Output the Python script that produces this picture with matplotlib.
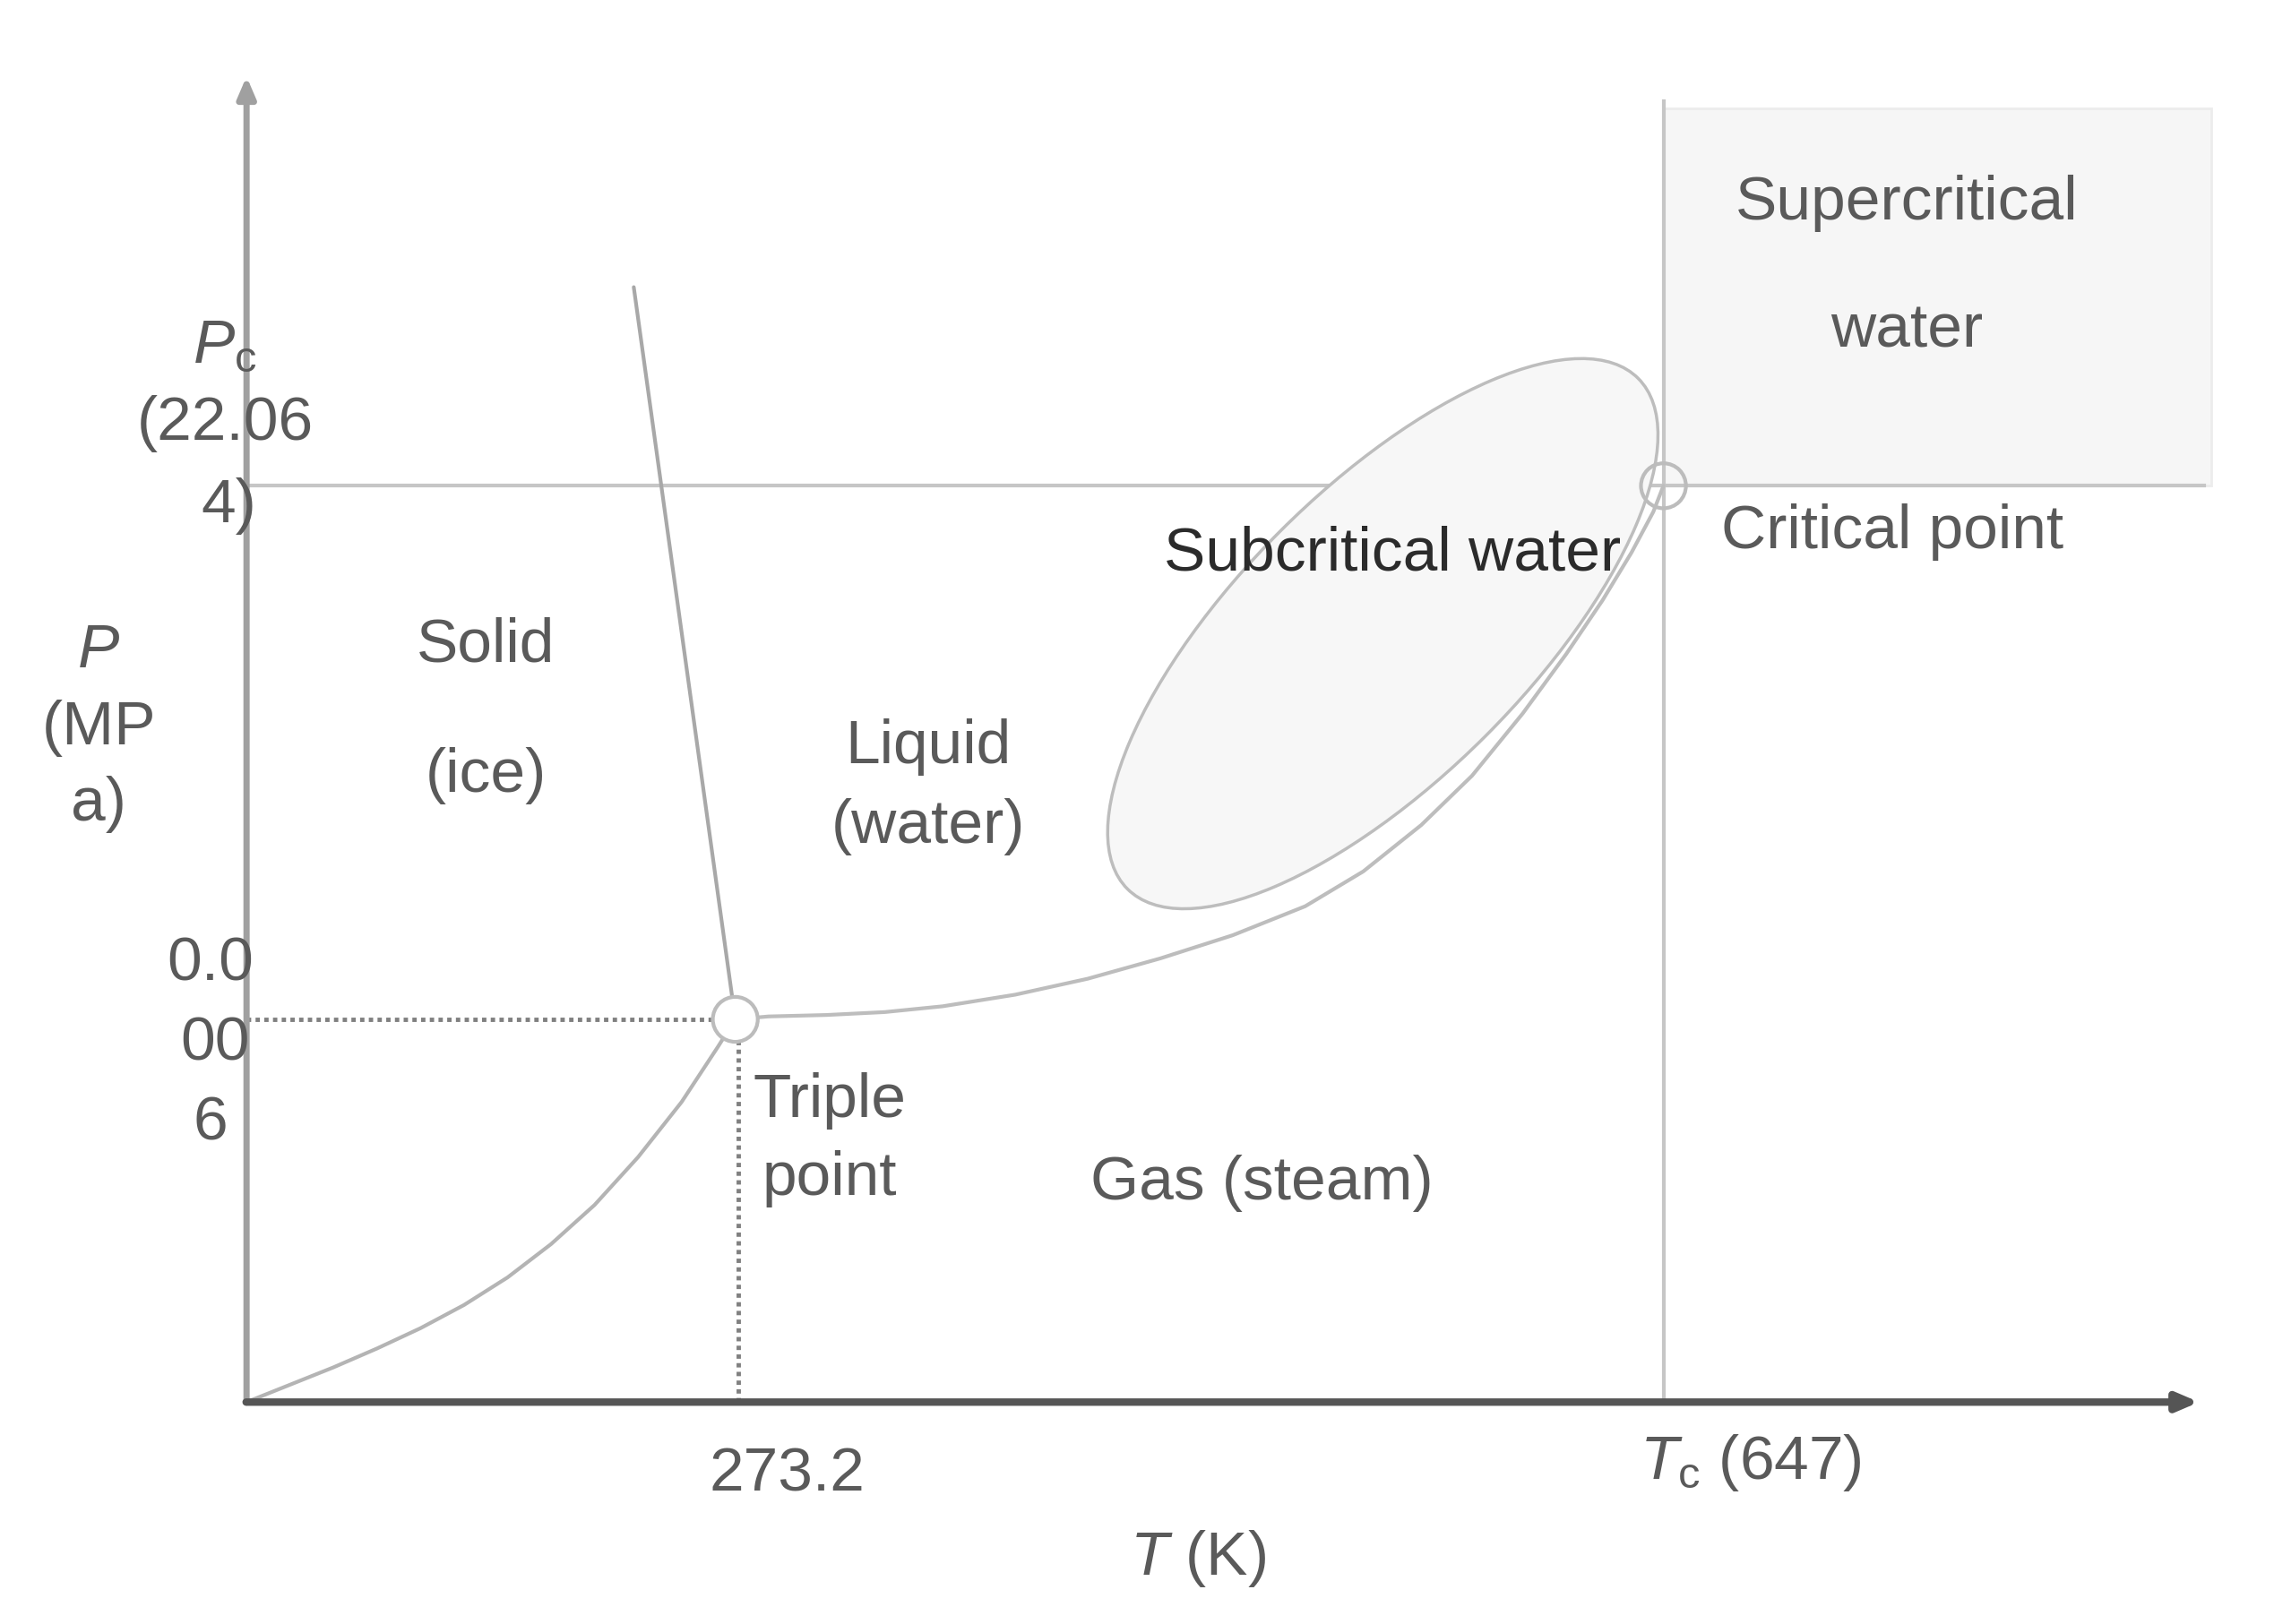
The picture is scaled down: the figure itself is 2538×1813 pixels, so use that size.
import numpy as np
import matplotlib
matplotlib.use("Agg")
import matplotlib.pyplot as plt
from matplotlib.patches import Ellipse, Circle, Rectangle

plt.rcParams['font.family'] = ['Liberation Sans', 'DejaVu Sans']
plt.rcParams['mathtext.fontset'] = 'custom'
plt.rcParams['mathtext.rm'] = 'Liberation Sans'
plt.rcParams['mathtext.it'] = 'Liberation Sans:italic'

# schematic units (origin at the axes crossing, y = pressure direction)
triple_pt = (337, 264)
critical_pt = (977, 632)

# solid-gas boundary
sublim_T = [0, 30, 60, 90, 120, 150, 180, 210, 240, 270, 300, 325, 337]
sublim_P = [0, 12, 24, 37, 51, 67, 86, 109, 136, 169, 207, 245, 264]

# solid-liquid boundary
melt_T = [267, 337]
melt_P = [769, 264]

# liquid-gas boundary
vapor_T = [337, 360, 400, 440, 480, 530, 580, 630, 680, 730, 770, 810, 845,
           880, 910, 935, 955, 970, 977]
vapor_P = [264, 266, 267, 269, 273, 281, 292, 306, 322, 342, 366, 398, 432,
           475, 516, 553, 586, 614, 632]

# subcritical region (ellipse) and supercritical box
subcrit_center = (783.5, 530)
subcrit_size = (498, 200)
subcrit_angle = 45
supercrit_top = 892
supercrit_right = 1355

axis_T_end = 1348
axis_P_end = 916
pc_line_end = 1350
tc_line_top = 897

region_labels = [
    ("Solid", 165, 522), ("(ice)", 165, 432),
    ("Liquid", 470, 452), ("(water)", 470, 397),
    ("Supercritical", 1145, 827), ("water", 1145, 739),
    ("Critical point", 1135, 600),
    ("Triple", 402, 208), ("point", 402, 154),
    ("Gas (steam)", 700, 151),
]
axis_labels = [
    (r"$P_\mathrm{c}$", -15, 728), ("(22.06", -15, 675), ("4)", -12, 618),
    (r"$P$", -102, 518), ("(MP", -102, 465), ("a)", -102, 412),
    ("0.0", -25, 302), ("00", -22, 247), ("6", -25, 192),
    ("273.2", 373, -50), (r"$T_\mathrm{c}$ (647)", 1037, -42),
    (r"$T$ (K)", 656, -108),
]

fig = plt.figure(figsize=(25.38, 18.13), dpi=100)
ax = fig.add_axes([0, 0, 1, 1])
ax.set_xlim(-170, 1398)
ax.set_ylim(-153, 967)
ax.set_aspect('equal')
ax.axis('off')

fs = 50
txt_col = '#5a5a5a'

# supercritical shaded box
ax.add_patch(Rectangle((critical_pt[0], critical_pt[1]),
                       supercrit_right - critical_pt[0],
                       supercrit_top - critical_pt[1],
                       facecolor='#f6f6f6', edgecolor='#ececec', lw=2, zorder=1))

# Pc and Tc reference lines
ax.plot([0, pc_line_end], [critical_pt[1], critical_pt[1]], color='#c6c6c6', lw=3, zorder=2)
ax.plot([critical_pt[0], critical_pt[0]], [0, tc_line_top], color='#c6c6c6', lw=3, zorder=2)

# subcritical ellipse
ax.add_patch(Ellipse(subcrit_center, subcrit_size[0], subcrit_size[1], angle=subcrit_angle,
                     facecolor='#f7f7f7', edgecolor='#bdbdbd', lw=2.5, zorder=2))

# phase boundaries
line_kw = dict(lw=3, zorder=3, solid_joinstyle='round', solid_capstyle='round')
ax.plot(sublim_T, sublim_P, color='#b4b4b4', **line_kw)
ax.plot(melt_T, melt_P, color='#a8a8a8', **line_kw)
ax.plot(vapor_T, vapor_P, color='#bdbdbd', **line_kw)

# dotted guides from triple point
ax.plot([0, triple_pt[0]], [triple_pt[1], triple_pt[1]], color='#808080', lw=3.5,
        ls=(0, (1, 1)), zorder=3)
ax.plot([triple_pt[0] + 2, triple_pt[0] + 2], [0, triple_pt[1]], color='#808080', lw=3.5,
        ls=(0, (1, 1)), zorder=3)

# axes with arrows
ax.annotate('', xy=(0, axis_P_end), xytext=(0, -2),
            arrowprops=dict(arrowstyle='-|>,head_length=1.4,head_width=0.6',
                            color='#a0a0a0', lw=5), zorder=4)
ax.annotate('', xy=(axis_T_end, 0), xytext=(-2, 0),
            arrowprops=dict(arrowstyle='-|>,head_length=1.4,head_width=0.6',
                            color='#555555', lw=6), zorder=4)

# triple and critical point markers
ax.add_patch(Circle(triple_pt, 15.5, facecolor='white', edgecolor='#bcbcbc', lw=3, zorder=5))
ax.add_patch(Circle(critical_pt, 15.5, facecolor='none', edgecolor='#bcbcbc', lw=3, zorder=5))

for s, x, y in region_labels:
    ax.text(x, y, s, fontsize=fs, color=txt_col, ha='center', va='center', zorder=6)
for s, x, y in axis_labels:
    ax.text(x, y, s, fontsize=fs, color=txt_col, ha='center', va='center', zorder=6)

ax.text(790, 585, "Subcritical water", fontsize=fs, color='#2b2b2b',
        ha='center', va='center', zorder=6)

fig.savefig('out.png', dpi=100, facecolor='white')
